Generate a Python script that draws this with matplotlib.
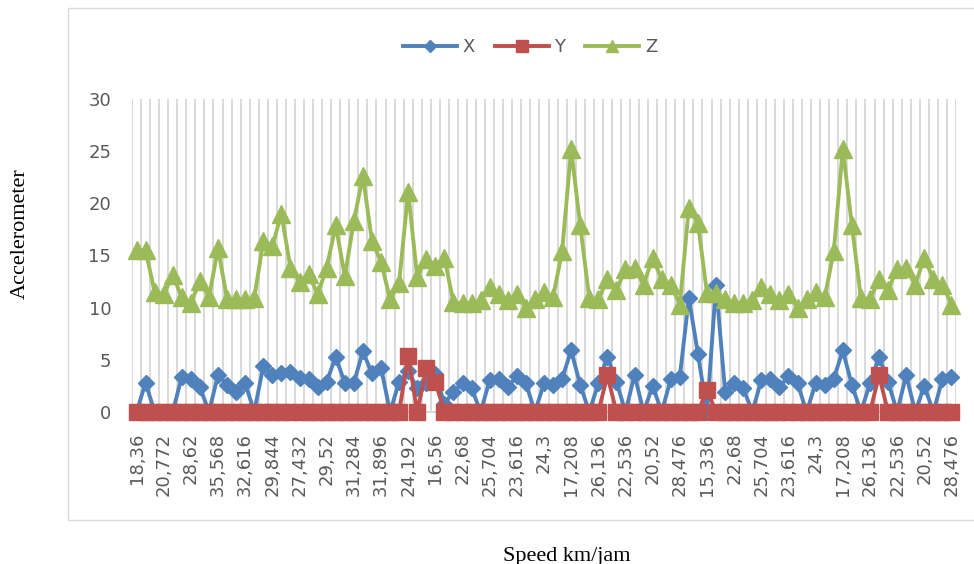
import matplotlib.pyplot as plt
from matplotlib.patches import Rectangle

# Speed labels shown under the x axis (one label for every third sample)
speedLabels = ['18,36', '20,772', '28,62', '35,568', '32,616', '29,844', '27,432', '29,52',
	'31,284', '31,896', '24,192', '16,56', '22,68', '25,704', '23,616', '24,3',
	'17,208', '26,136', '22,536', '20,52', '28,476', '15,336', '22,68', '25,704',
	'23,616', '24,3', '17,208', '26,136', '22,536', '20,52', '28,476']

# Accelerometer readings, one value per sample
accX = [0, 2.8, 0, 0, 0, 3.4, 3.2, 2.4, 0, 3.55,
	2.6, 1.95, 2.75, 0, 4.4, 3.5, 3.7, 3.8, 3.3, 3.2,
	2.4, 2.9, 5.3, 2.75, 2.8, 5.8, 3.7, 4.25, 0, 2.9,
	3.9, 2.3, 2.8, 3.6, 0.8, 1.95, 2.75, 2.3, 0, 3.05,
	3.15, 2.35, 3.45, 2.75, 0, 2.75, 2.6, 3.2, 5.9, 2.6,
	0, 2.75, 5.3, 2.9, 0, 3.55, 0, 2.5, 0, 3.15,
	3.4, 10.9, 5.6, 0, 12.2, 1.95, 2.75, 2.3, 0, 3.05,
	3.15, 2.35, 3.45, 2.75, 0, 2.75, 2.6, 3.2, 5.9, 2.6,
	0, 2.75, 5.3, 2.9, 0, 3.55, 0, 2.5, 0, 3.15,
	3.4]
accY = [0, 0, 0, 0, 0, 0, 0, 0, 0, 0,
	0, 0, 0, 0, 0, 0, 0, 0, 0, 0,
	0, 0, 0, 0, 0, 0, 0, 0, 0, 0,
	5.4, 0, 4.2, 2.9, 0, 0, 0, 0, 0, 0,
	0, 0, 0, 0, 0, 0, 0, 0, 0, 0,
	0, 0, 3.5, 0, 0, 0, 0, 0, 0, 0,
	0, 0, 0, 2.1, 0, 0, 0, 0, 0, 0,
	0, 0, 0, 0, 0, 0, 0, 0, 0, 0,
	0, 0, 3.5, 0, 0, 0, 0, 0, 0, 0,
	0]
accZ = [15.5, 15.5, 11.5, 11.3, 13.1, 11.0, 10.4, 12.6, 11.0, 15.7,
	10.8, 10.8, 10.8, 10.9, 16.4, 15.9, 19.0, 13.8, 12.5, 13.2,
	11.3, 13.8, 17.9, 13.0, 18.3, 22.6, 16.4, 14.4, 10.8, 12.4,
	21.1, 12.9, 14.7, 14.0, 14.8, 10.5, 10.4, 10.4, 10.7, 12.0,
	11.3, 10.7, 11.3, 10.0, 10.8, 11.5, 11.0, 15.4, 25.2, 17.9,
	10.9, 10.8, 12.7, 11.7, 13.7, 13.8, 12.2, 14.8, 12.7, 12.2,
	10.3, 19.6, 18.1, 11.4, 11.4, 10.8, 10.4, 10.4, 10.7, 12.0,
	11.3, 10.7, 11.3, 10.0, 10.8, 11.5, 11.0, 15.4, 25.2, 17.9,
	10.9, 10.8, 12.7, 11.7, 13.7, 13.8, 12.2, 14.8, 12.7, 12.2,
	10.3]

textColor = '#595959'
gridColor = '#D9D9D9'

fig = plt.figure(figsize=(9.74, 5.64), dpi=100)
ax = fig.add_axes([132 / 974, 152 / 564, 824 / 974, 313 / 564])

samples = list(range(len(accZ)))
ax.plot(samples, accX, color='#4F81BD', lw=2.8, marker='D', ms=8.5, label='X', clip_on=False, zorder=3)
ax.plot(samples, accY, color='#C0504D', lw=2.8, marker='s', ms=12, label='Y', clip_on=False, zorder=4)
ax.plot(samples, accZ, color='#9BBB59', lw=2.8, marker='^', ms=12.5, label='Z', clip_on=False, zorder=5)

ax.set_xlim(-0.5, len(samples) - 0.5)
ax.set_ylim(0, 30)
ax.set_yticks(range(0, 31, 5))
ax.set_xticks(samples[::3])
ax.set_xticklabels(speedLabels, rotation=90, va='top', ha='center')

# vertical grid lines sit between the categories
ax.set_xticks([i - 0.5 for i in range(len(samples) + 1)], minor=True)
ax.grid(which='minor', axis='x', color=gridColor, lw=1.4, zorder=0)
ax.set_axisbelow(True)

ax.tick_params(axis='both', which='both', length=0, labelsize=13, colors=textColor)
ax.tick_params(axis='y', pad=15)
ax.tick_params(axis='x', pad=15)

for side in ['top', 'right', 'left']:
	ax.spines[side].set_visible(False)
ax.spines['bottom'].set_color(gridColor)
ax.spines['bottom'].set_linewidth(1.4)

leg = fig.legend(loc='center', bbox_to_anchor=(530 / 974, 1 - 47 / 564), ncol=3, frameon=False,
	handlelength=3, handletextpad=0.3, columnspacing=1.1, fontsize=13, markerscale=0.7)
for t in leg.get_texts():
	t.set_color(textColor)

fig.text(20 / 974, 1 - 234 / 564, 'Accelerometer', rotation=90, family='Liberation Serif',
	size=16, ha='center', va='center')
fig.text(567 / 974, 1 - 556 / 564, 'Speed km/jam', family='Liberation Serif',
	size=16, ha='center', va='center')

# light border around the chart area
fig.patches.append(Rectangle((68 / 974, 44 / 564), 1.0, 512 / 564, transform=fig.transFigure,
	fill=False, edgecolor=gridColor, lw=1))

fig.savefig('out.png', dpi=100)
